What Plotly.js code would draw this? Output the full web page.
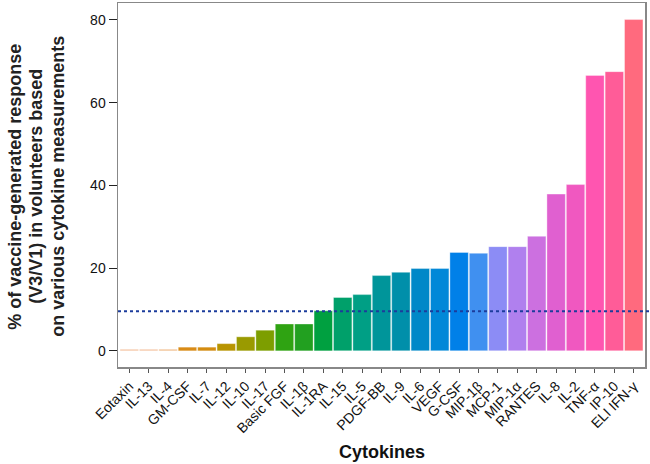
<!DOCTYPE html>
<html>
<head>
<meta charset="utf-8">
<script src="https://cdn.plot.ly/plotly-3.0.1.min.js"></script>
<style>
  html, body { margin: 0; padding: 0; background: #fff; }
  #chart { width: 650px; height: 464px; }
</style>
</head>
<body>
<div id="chart"></div>
<script>
// cytokines, sorted by response
var cytokines = ['Eotaxin', 'IL-13', 'IL-4', 'GM-CSF', 'IL-7', 'IL-12', 'IL-10', 'IL-17',
  'Basic FGF', 'IL-1β', 'IL-1RA', 'IL-15', 'IL-5', 'PDGF-BB', 'IL-9', 'IL-6', 'VEGF',
  'G-CSF', 'MIP-1β', 'MCP-1', 'MIP-1α', 'RANTES', 'IL-8', 'IL-2', 'TNF-α', 'IP-10', 'ELI IFN-γ'];

var response = [0.4, 0.4, 0.4, 0.9, 0.9, 1.75, 3.4, 5.0,
  6.5, 6.5, 9.7, 12.9, 13.6, 18.2, 19.0, 19.9, 19.9,
  23.8, 23.6, 25.2, 25.2, 27.7, 37.9, 40.2, 66.6, 67.5, 80.1];

var barColors = ['#F5C6A5', '#F5C6A5', '#F2C090', '#D98B16', '#D48C10', '#B89400', '#9A9A00', '#7D9E00',
  '#2FA312', '#22A020', '#00A040', '#00A06A', '#009F85', '#00959A', '#008FAA', '#0088C8', '#0088D8',
  '#0080E8', '#4090F0', '#8C8CF5', '#B080EE', '#CC70E0', '#E060D0', '#F058C0', '#FF55B0', '#FF5C98', '#FF6A7E'];

var yTitleLines = ['% of vaccine-generated response', '(V3/V1) in volunteers based', 'on various cytokine measurements'];

var cutoff = 9.6;

var trace = {
  type: 'bar',
  x: cytokines,
  y: response,
  marker: { color: barColors, line: { color: 'rgba(255,255,255,0.6)', width: 0.6 } },
  hoverinfo: 'x+y'
};

// one annotation per y-title line so the spacing can match
var titleX = [15, 36, 58];
var notes = yTitleLines.map(function (t, i) {
  return {
    text: '<b>' + t + '</b>',
    xref: 'paper', yref: 'paper',
    x: (titleX[i] - 118) / 527, y: 0.495,
    xanchor: 'center', yanchor: 'middle',
    textangle: -90,
    showarrow: false,
    font: { size: 18, color: '#222' }
  };
});
notes.push({
  text: '<b>Cytokines</b>',
  xref: 'paper', yref: 'paper',
  x: 0.5, y: -0.234,
  xanchor: 'center', yanchor: 'middle',
  showarrow: false,
  font: { size: 18, color: '#111' }
});

var layout = {
  width: 650,
  height: 464,
  margin: { l: 118, r: 5, t: 3, b: 97 },
  paper_bgcolor: '#fff',
  plot_bgcolor: '#fff',
  font: { family: 'Liberation Sans, Arial, sans-serif', color: '#111' },
  showlegend: false,
  bargap: 0.05,
  xaxis: {
    type: 'category',
    range: [-0.58, 26.58],
    tickangle: -45,
    tickfont: { size: 14 },
    ticks: 'outside',
    ticklen: 4,
    tickcolor: '#555',
    showline: true,
    mirror: true,
    linecolor: '#888',
    linewidth: 1.5,
    showgrid: false,
    zeroline: false
  },
  yaxis: {
    range: [-3.9, 84.1],
    tickvals: [0, 20, 40, 60, 80],
    tickfont: { size: 14 },
    ticks: 'outside',
    ticklen: 8,
    tickcolor: '#222',
    showline: true,
    mirror: true,
    linecolor: '#888',
    linewidth: 1.5,
    showgrid: false,
    zeroline: false
  },
  shapes: [{
    type: 'line',
    xref: 'paper', x0: 0, x1: 1.01,
    yref: 'y', y0: cutoff, y1: cutoff,
    line: { color: '#1C3C9C', width: 2, dash: 'dot' }
  }],
  annotations: notes
};

Plotly.newPlot('chart', [trace], layout, { displayModeBar: false, staticPlot: true });
</script>
</body>
</html>
